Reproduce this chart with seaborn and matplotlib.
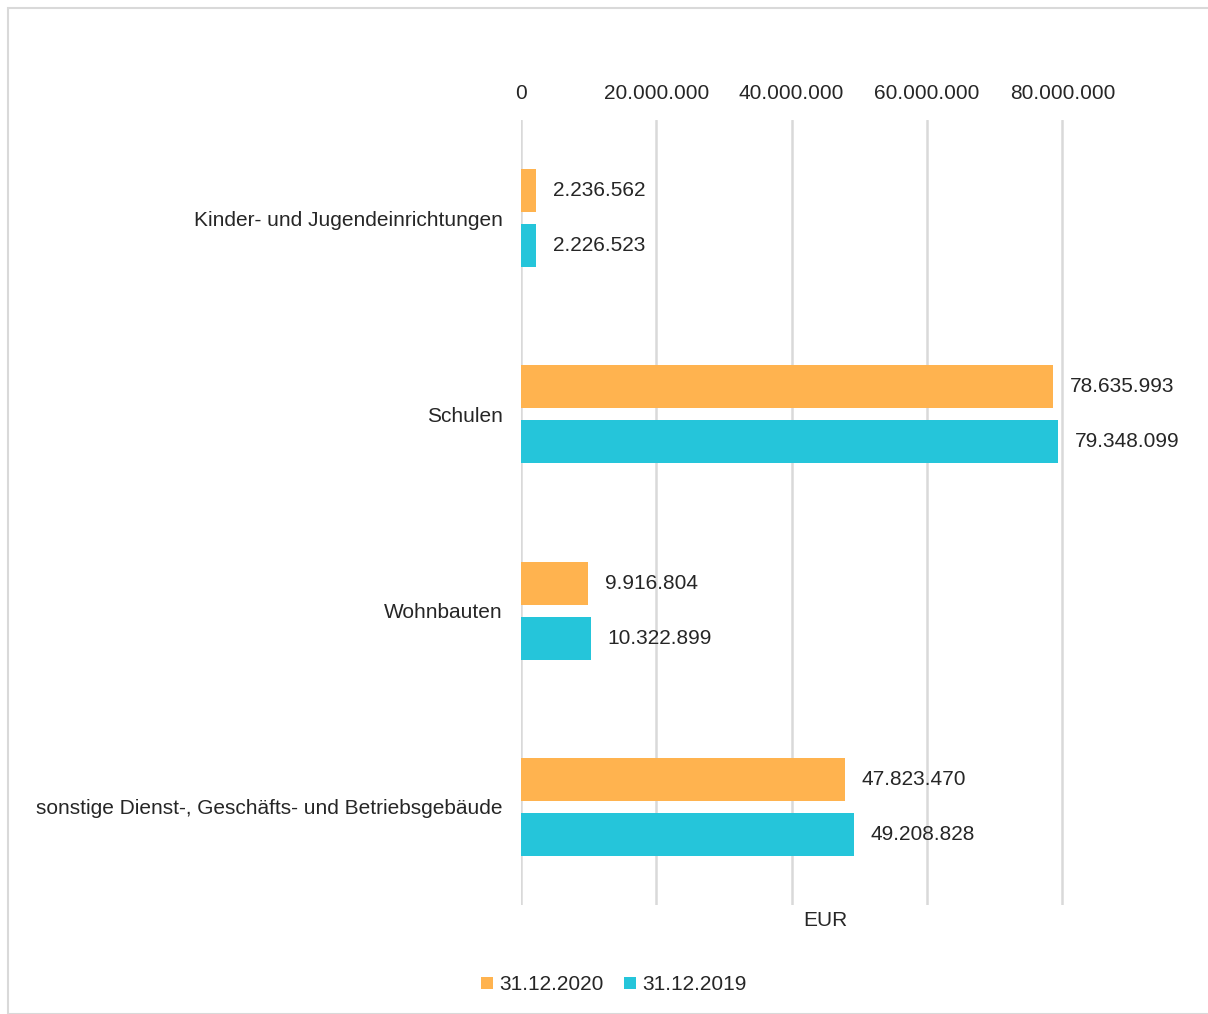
import matplotlib
matplotlib.use("Agg")
import matplotlib.pyplot as plt
import seaborn as sns
import pandas as pd
from matplotlib.patches import Rectangle

categories = ["Kinder- und Jugendeinrichtungen", "Schulen", "Wohnbauten",
              "sonstige Dienst-, Geschäfts- und Betriebsgebäude"]
series_names = ["31.12.2020", "31.12.2019"]
values_2020 = [2236562, 78635993, 9916804, 47823470]
values_2019 = [2226523, 79348099, 10322899, 49208828]
x_ticks = [0, 20000000, 40000000, 60000000, 80000000]
colors = ["#FFB34F", "#25C5DA"]

def de_fmt(v):
    return f"{int(round(v)):,}".replace(",", ".")

df = pd.DataFrame({
    "Kategorie": categories * 2,
    "Serie": [series_names[0]] * 4 + [series_names[1]] * 4,
    "Wert": values_2020 + values_2019,
})

sns.set_style("white")
plt.rcParams["font.family"] = ["Liberation Sans", "DejaVu Sans"]
plt.rcParams["text.color"] = "#262626"
FS = 15

fig = plt.figure(figsize=(12.08, 10.14), dpi=100)
ax = fig.add_axes([521/1208, 109/1014, 674/1208, 785/1014])

sns.barplot(data=df, y="Kategorie", x="Wert", hue="Serie", order=categories,
            hue_order=series_names, palette=colors, width=0.56, gap=0.215,
            orient="h", ax=ax, legend=True, saturation=1, linewidth=0)

for c in ax.containers:
    ax.bar_label(c, labels=[de_fmt(v) for v in c.datavalues], padding=12,
                 fontsize=FS, color="#262626")

ax.set_xlim(0, 99600000)
ax.set_xticks(x_ticks)
ax.set_xticklabels([de_fmt(v) for v in x_ticks], fontsize=FS, color="#262626")
ax.xaxis.tick_top()
ax.tick_params(axis="x", length=0, pad=12)
ax.tick_params(axis="y", length=0, pad=13, labelsize=FS, labelcolor="#262626")
ax.grid(axis="x", color="#D9D9D9", linewidth=1.8)
ax.set_axisbelow(True)
for s in ax.spines.values():
    s.set_visible(False)
ax.set_ylabel("")
ax.set_xlabel("")
fig.text(825/1208, 1 - 921/1014, "EUR", ha="center", va="center", fontsize=FS, color="#262626")

handles, labels = ax.get_legend_handles_labels()
ax.legend_.remove()
fig.legend(handles, labels, loc="center", bbox_to_anchor=(614/1208, 1 - 985/1014),
           ncol=2, frameon=False, fontsize=FS, handlelength=0.55, handleheight=0.55,
           handletextpad=0.3, columnspacing=1.0)

fig.patches.append(Rectangle((8/1208, 0), 1.0, 1 - 8/1014, transform=fig.transFigure,
                             fill=False, edgecolor="#D9D9D9", linewidth=1.5))

fig.savefig("out.png", dpi=100)
